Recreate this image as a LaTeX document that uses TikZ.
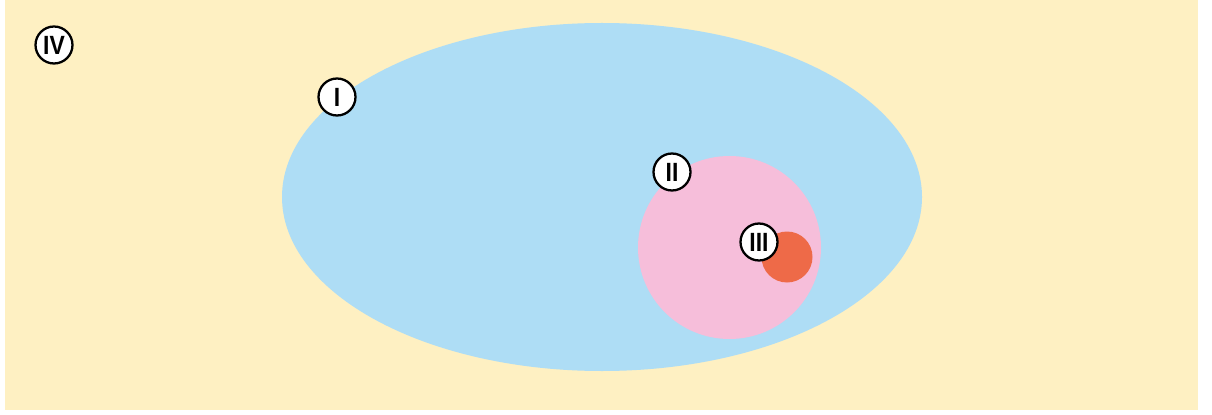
\documentclass[tikz,border=0pt]{standalone}
\usepackage{fontspec}
\setsansfont{Liberation Sans}
\usepackage{xcolor}
\usetikzlibrary{positioning}
\definecolor{sandbg}{HTML}{FEF0C2}
\definecolor{setblue}{HTML}{AEDDF5}
\definecolor{setpink}{HTML}{F6BEDA}
\definecolor{setred}{HTML}{EE6A48}
\newcommand{\narrow}[1]{\scalebox{0.87}[1]{#1}}
\tikzset{
  region/.style={draw=none},
  tag/.style={circle, draw=black, fill=white, line width=1.3pt, minimum size=7.4mm, inner sep=0pt, font=\sffamily\bfseries\fontsize{15}{15}\selectfont}
}
\begin{document}
\begin{tikzpicture}[x=0.02cm, y=-0.02cm]
\useasboundingbox (0,0) rectangle (1212,415);
\fill[white] (0,0) rectangle (1212,415);
\fill[sandbg] (5,0) rectangle (1198,410);
\fill[setblue] (602,197) ellipse [x radius=320, y radius=174];
\fill[setpink] (729.5,247.5) circle [radius=91.5];
\fill[setred] (787,257) circle [radius=25.5];
\node[tag] (four) at (54,45) {\narrow{IV}};
\node[tag] (one) at (337,97) {\narrow{I}};
\node[tag] (two) at (672,172) {\narrow{II}};
\node[tag] (three) at (759,242) {\narrow{III}};
\end{tikzpicture}
\end{document}
